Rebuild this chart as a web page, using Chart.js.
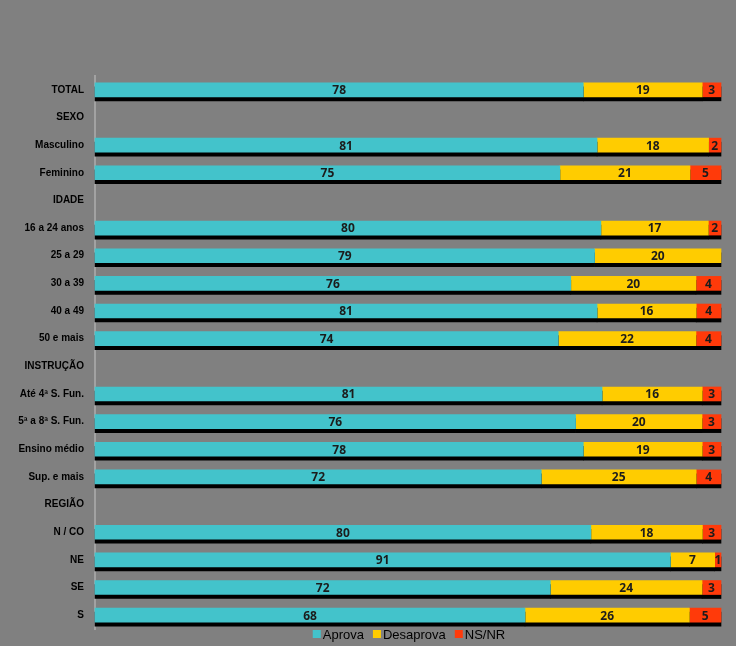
<!DOCTYPE html>
<html>
<head>
<meta charset="utf-8">
<script src="https://cdn.jsdelivr.net/npm/chart.js@4.4.1/dist/chart.umd.min.js"></script>
<style>
  html, body { margin: 0; padding: 0; background: #808080; }
  #wrap { width: 736px; height: 646px; position: relative; }
</style>
</head>
<body>
<div id="wrap"><canvas id="c"></canvas></div>
<script>
const categories = ['TOTAL', 'SEXO', 'Masculino', 'Feminino', 'IDADE', '16 a 24 anos', '25 a 29', '30 a 39', '40 a 49', '50 e mais',
  'INSTRUÇÃO', 'Até 4ª S. Fun.', '5ª a 8ª S. Fun.', 'Ensino médio', 'Sup. e mais', 'REGIÃO', 'N / CO', 'NE', 'SE', 'S'];
const aprova    = [78, null, 81, 75, null, 80, 79, 76, 81, 74, null, 81, 76, 78, 72, null, 80, 91, 72, 68];
const desaprova = [19, null, 18, 21, null, 17, 20, 20, 16, 22, null, 16, 20, 19, 25, null, 18, 7, 24, 26];
const nsnr      = [3, null, 2, 5, null, 2, null, 4, 4, 4, null, 3, 3, 3, 4, null, 3, 1, 3, 5];

const seriesNames = ['Aprova', 'Desaprova', 'NS/NR'];
const colors = ['#43C3CB', '#FFCC00', '#FF3A0A'];
const raw = [aprova, desaprova, nsnr];

// 100% stacked: each row is scaled to its own total
const rowTotal = categories.map((_, i) => raw.reduce((s, arr) => s + (arr[i] || 0), 0));
const pct = arr => arr.map((v, i) => v == null ? null : v / rowTotal[i] * 100);

const barShadow = {
  id: 'barShadow',
  beforeDatasetsDraw(chart) {
    const ctx = chart.ctx;
    ctx.save();
    ctx.shadowColor = '#000';
    ctx.shadowOffsetX = 0;
    ctx.shadowOffsetY = 4;
    ctx.shadowBlur = 0;
  },
  afterDatasetsDraw(chart) {
    const ctx = chart.ctx;
    ctx.restore();
    // value labels
    ctx.save();
    ctx.font = 'bold 12px "Open Sans", sans-serif';
    ctx.fillStyle = '#1c1c1c';
    ctx.textAlign = 'center';
    ctx.textBaseline = 'middle';
    chart.data.datasets.forEach((ds, di) => {
      chart.getDatasetMeta(di).data.forEach((bar, i) => {
        const v = raw[di][i];
        if (v == null) return;
        const x = (bar.x + bar.base) / 2;
        ctx.fillText(String(v), x, bar.y + 1);
      });
    });
    ctx.restore();
  },
  afterDraw(chart) {
    // legend
    const ctx = chart.ctx;
    ctx.save();
    ctx.font = '13px "Liberation Sans", Arial, sans-serif';
    ctx.textBaseline = 'middle';
    const box = 8, gap = 2, sep = 9;
    const widths = seriesNames.map(n => box + gap + ctx.measureText(n).width);
    const total = widths.reduce((a, b) => a + b, 0) + sep * (widths.length - 1);
    let x = 409 - total / 2;
    const y = 634;
    seriesNames.forEach((n, i) => {
      ctx.fillStyle = colors[i];
      ctx.fillRect(x, y - box / 2, box, box);
      ctx.fillStyle = '#000';
      ctx.fillText(n, x + box + gap, y + 1);
      x += widths[i] + sep;
    });
    ctx.restore();
  }
};

new Chart(document.getElementById('c'), {
  type: 'bar',
  data: {
    labels: categories,
    datasets: raw.map((arr, i) => ({
      label: seriesNames[i],
      data: pct(arr),
      backgroundColor: colors[i],
      borderWidth: 0,
      barThickness: 14,
      clip: false
    }))
  },
  options: {
    indexAxis: 'y',
    responsive: true,
    maintainAspectRatio: false,
    animation: false,
    layout: { padding: { top: 76, bottom: 15, right: 15, left: 0 } },
    plugins: { legend: { display: false }, tooltip: { enabled: false } },
    scales: {
      x: { stacked: true, min: 0, max: 100, display: false },
      y: {
        stacked: true,
        grid: { display: false, drawTicks: false },
        border: { display: true, color: '#a2a2a2', width: 2 },
        ticks: { color: '#000', padding: 11, font: { family: '"Liberation Sans", Arial, sans-serif', size: 10, weight: 'bold' } },
        afterFit: s => { s.width = 95; }
      }
    }
  },
  plugins: [barShadow]
});
</script>
</body>
</html>
